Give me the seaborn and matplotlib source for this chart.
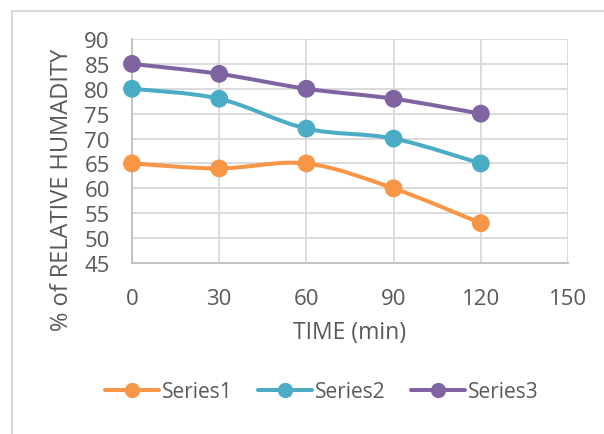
import numpy as np
import pandas as pd
import matplotlib
matplotlib.use("Agg")
import matplotlib.pyplot as plt
from matplotlib.path import Path
from matplotlib.patches import PathPatch
from matplotlib.lines import Line2D
import seaborn as sns

# Measurements
time_min = [0, 30, 60, 90, 120]
series1 = [65, 64, 65, 60, 53]
series2 = [80, 78, 72, 70, 65]
series3 = [85, 83, 80, 78, 75]
series_names = ["Series1", "Series2", "Series3"]
colors = ["#F79646", "#4BACC6", "#8064A2"]
x_ticks = [0, 30, 60, 90, 120, 150]
y_ticks = [45, 50, 55, 60, 65, 70, 75, 80, 85, 90]

df = pd.DataFrame({
    "time": time_min * 3,
    "value": series1 + series2 + series3,
    "series": sum([[n] * len(time_min) for n in series_names], []),
})

sns.set_theme(style="white")
plt.rcParams["font.family"] = ["Open Sans", "DejaVu Sans"]

fig = plt.figure(figsize=(6.04, 4.35), dpi=100)
ax = fig.add_axes([132 / 604, 1 - 264 / 435, 436 / 604, 224 / 435])

text_color = "#595959"
grid_color = "#D9D9D9"


def smooth_path(xs, ys):
    """Cubic Bezier through the points (Catmull-Rom style tangents)."""
    pts = np.column_stack([xs, ys]).astype(float)
    n = len(pts)
    verts = [pts[0]]
    codes = [Path.MOVETO]
    for i in range(n - 1):
        p0 = pts[i - 1] if i > 0 else pts[i]
        p1 = pts[i]
        p2 = pts[i + 1]
        p3 = pts[i + 2] if i + 2 < n else pts[i + 1]
        c1 = p1 + (p2 - p0) / 6.0
        c2 = p2 - (p3 - p1) / 6.0
        verts += [c1, c2, p2]
        codes += [Path.CURVE4] * 3
    return Path(verts, codes)


for name, col in zip(series_names, colors):
    sub = df[df["series"] == name]
    patch = PathPatch(smooth_path(sub["time"].values, sub["value"].values),
                      facecolor="none", edgecolor=col, lw=2.9,
                      capstyle="round", joinstyle="round", zorder=3)
    ax.add_patch(patch)

sns.scatterplot(data=df, x="time", y="value", hue="series",
                palette=colors, s=165, edgecolor="none", linewidth=0,
                legend=False, ax=ax, zorder=4, clip_on=False)

ax.set_xlim(0, 150)
ax.set_ylim(45, 90)
ax.set_xticks(x_ticks)
ax.set_yticks(y_ticks)
ax.grid(True, color=grid_color, lw=1.3)
ax.set_axisbelow(True)
for side in ["top", "right"]:
    ax.spines[side].set_visible(False)
for side in ["left", "bottom"]:
    ax.spines[side].set_color("#BFBFBF")
    ax.spines[side].set_linewidth(1.3)
ax.tick_params(axis="both", length=0, labelsize=16, labelcolor=text_color)
ax.tick_params(axis="x", pad=18)
ax.tick_params(axis="y", pad=16)
ax.set_xlabel("TIME (min)", fontsize=16.5, color=text_color, labelpad=8)
ax.set_ylabel("% of RELATIVE HUMADITY", fontsize=17, color=text_color, va="center")
ax.yaxis.set_label_coords(-0.160, 0.33)

handles = [Line2D([0], [0], color=c, lw=2.9, marker="o", markersize=11,
                  markeredgewidth=0) for c in colors]
fig.legend(handles, series_names, loc="center", bbox_to_anchor=(322 / 604, 1 - 393 / 435),
           ncol=3, frameon=False, fontsize=15, labelcolor=text_color,
           handlelength=2.6, handletextpad=0.15, columnspacing=1.2)

# chart frame
fig.add_artist(Line2D([12 / 604, 12 / 604], [0, 1 - 12 / 435],
                      color="#D9D9D9", lw=1.5, transform=fig.transFigure))
fig.add_artist(Line2D([12 / 604, 1], [1 - 12 / 435, 1 - 12 / 435],
                      color="#D9D9D9", lw=1.5, transform=fig.transFigure))

fig.savefig("out.png", dpi=100, facecolor="white")
